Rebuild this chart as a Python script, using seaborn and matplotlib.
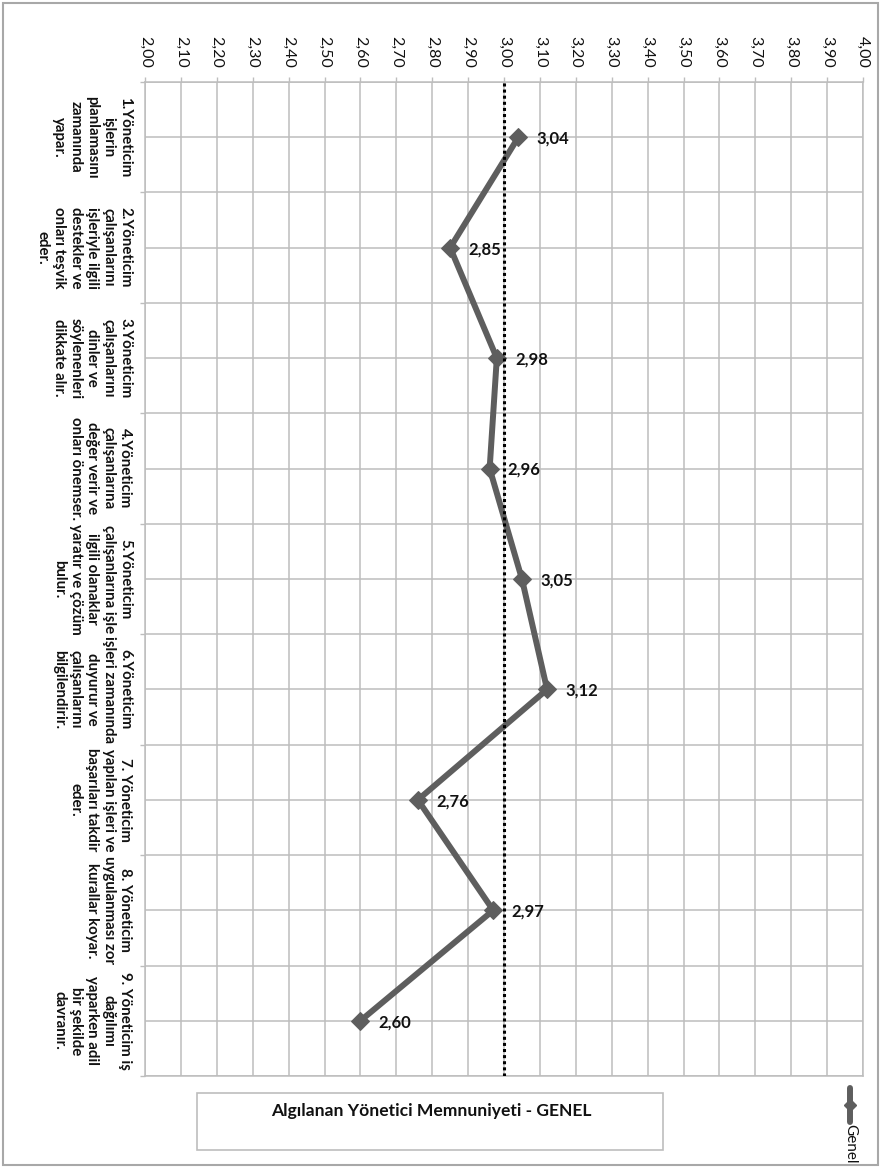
import matplotlib
matplotlib.use("Agg")
import matplotlib.pyplot as plt
import seaborn as sns
import pandas as pd
import numpy as np
from matplotlib.patches import Rectangle
from matplotlib.lines import Line2D

# Survey items (perceived manager satisfaction)
categories = [
    "1.Yöneticim\nişlerin\nplanlamasını\nzamanında\nyapar.",
    "2.Yöneticim\nçalışanlarını\nişleriyle ilgili\ndestekler ve\nonları teşvik\neder.",
    "3.Yöneticim\nçalışanlarını\ndinler ve\nsöylenenleri\ndikkate alır.",
    "4.Yöneticim\nçalışanlarına\ndeğer verir ve\nonları önemser.",
    "5.Yöneticim\nçalışanlarına işle\nilgili olanaklar\nyaratır ve çözüm\nbulur.",
    "6.Yöneticim\nişleri zamanında\nduyurur ve\nçalışanlarını\nbilgilendirir.",
    "7. Yöneticim\nyapılan işleri ve\nbaşarıları takdir\neder.",
    "8. Yöneticim\nuygulanması zor\nkurallar koyar.",
    "9. Yöneticim iş\ndağılımı\nyaparken adil\nbir şekilde\ndavranır.",
]
scores = [3.04, 2.85, 2.98, 2.96, 3.05, 3.12, 2.76, 2.97, 2.60]

value_ticks = [2.0, 2.1, 2.2, 2.3, 2.4, 2.5, 2.6, 2.7, 2.8, 2.9, 3.0,
               3.1, 3.2, 3.3, 3.4, 3.5, 3.6, 3.7, 3.8, 3.9, 4.0]
value_tick_labels = ["2,00", "2,10", "2,20", "2,30", "2,40", "2,50", "2,60",
                     "2,70", "2,80", "2,90", "3,00", "3,10", "3,20", "3,30",
                     "3,40", "3,50", "3,60", "3,70", "3,80", "3,90", "4,00"]
reference_value = 3.00
series_name = "Genel"
chart_title = "Algılanan Yönetici Memnuniyeti - GENEL"

sns.set_theme(style="white")
plt.rcParams["font.family"] = ["Lato", "DejaVu Sans"]

W, H = 881, 1168
fig = plt.figure(figsize=(W / 100, H / 100), dpi=100)


def fig_box(x0, y0, x1, y1):
    return [x0 / W, 1 - y1 / H, (x1 - x0) / W, (y1 - y0) / H]


ax = fig.add_axes(fig_box(145, 82, 863, 1076))

grid_col = "#bdbdbd"
line_col = "#5e5e5e"
text_col = "#111111"

df = pd.DataFrame({"item": np.arange(len(scores)), "score": scores})
sns.lineplot(data=df, x="score", y="item", sort=False, estimator=None,
             color=line_col, linewidth=4.3, marker="D", markersize=9,
             markeredgecolor=line_col, ax=ax, zorder=3)

ax.axvline(reference_value, color="black", linewidth=2.2,
           linestyle=(0, (1, 1)), zorder=4)

ax.set_xlim(value_ticks[0], value_ticks[-1])
ax.set_ylim(len(categories) - 0.5, -0.5)
ax.set_xlabel("")
ax.set_ylabel("")

# value axis on top, labels turned with the page
ax.xaxis.tick_top()
ax.set_xticks(value_ticks)
ax.set_xticklabels(value_tick_labels, rotation=-90, fontsize=11.5, color=text_col)
ax.tick_params(axis="x", which="major", top=True, bottom=False, direction="out",
               length=3.5, width=1, color=grid_col, pad=7)

# category boundaries (with ticks) and centres (grid only)
ax.set_yticks(np.arange(-0.5, len(categories)), labels=[])
ax.set_yticks(np.arange(len(categories)), minor=True)
ax.set_yticklabels([], minor=True)
ax.tick_params(axis="y", which="major", left=True, direction="out",
               length=3.5, width=1, color=grid_col)
ax.tick_params(axis="y", which="minor", left=False, length=0)

ax.grid(True, axis="x", which="major", color=grid_col, linewidth=1.1)
ax.grid(True, axis="y", which="both", color=grid_col, linewidth=1.1)
ax.set_axisbelow(True)
for sp in ax.spines.values():
    sp.set_color(grid_col)
    sp.set_linewidth(1.1)

# category labels
ytrans = ax.get_yaxis_transform()
for i, lab in enumerate(categories):
    ax.text(-13 / 718, i, lab, transform=ytrans, rotation=-90,
            ha="right", va="center", multialignment="center",
            fontsize=10.8, fontweight="bold", linespacing=1.22, color=text_col)

# value labels
for i, v in enumerate(scores):
    ax.annotate(f"{v:.2f}".replace(".", ","), (v, i), xytext=(13, -1),
                textcoords="offset points", ha="left", va="center",
                fontsize=12, fontweight="bold", color=text_col, zorder=5)

# title box
fig.patches.append(Rectangle((197 / W, 1 - 1150 / H), (663 - 197) / W, (1150 - 1093) / H,
                             transform=fig.transFigure, fill=False,
                             edgecolor=grid_col, linewidth=1.2))
fig.text(431 / W, 1 - 1111 / H, chart_title, ha="center", va="center",
         fontsize=12.6, fontweight="bold", color=text_col)

# legend, turned like the rest of the page
fig.lines.append(Line2D([850 / W, 850 / W], [1 - 1088 / H, 1 - 1122 / H],
                        transform=fig.transFigure, color=line_col, linewidth=4.3))
fig.lines.append(Line2D([850 / W], [1 - 1105 / H], transform=fig.transFigure,
                        color=line_col, marker="D", markersize=6, linestyle="none"))
fig.text(850 / W, 1 - 1124 / H, series_name, rotation=-90, ha="center", va="top",
         fontsize=11, color=text_col)

# page frame
fig.patches.append(Rectangle((3 / W, 1 - 1165 / H), (878 - 3) / W, (1165 - 3) / H,
                             transform=fig.transFigure, fill=False,
                             edgecolor="#a8a8a8", linewidth=1.5))

fig.savefig("out.png", dpi=100)
